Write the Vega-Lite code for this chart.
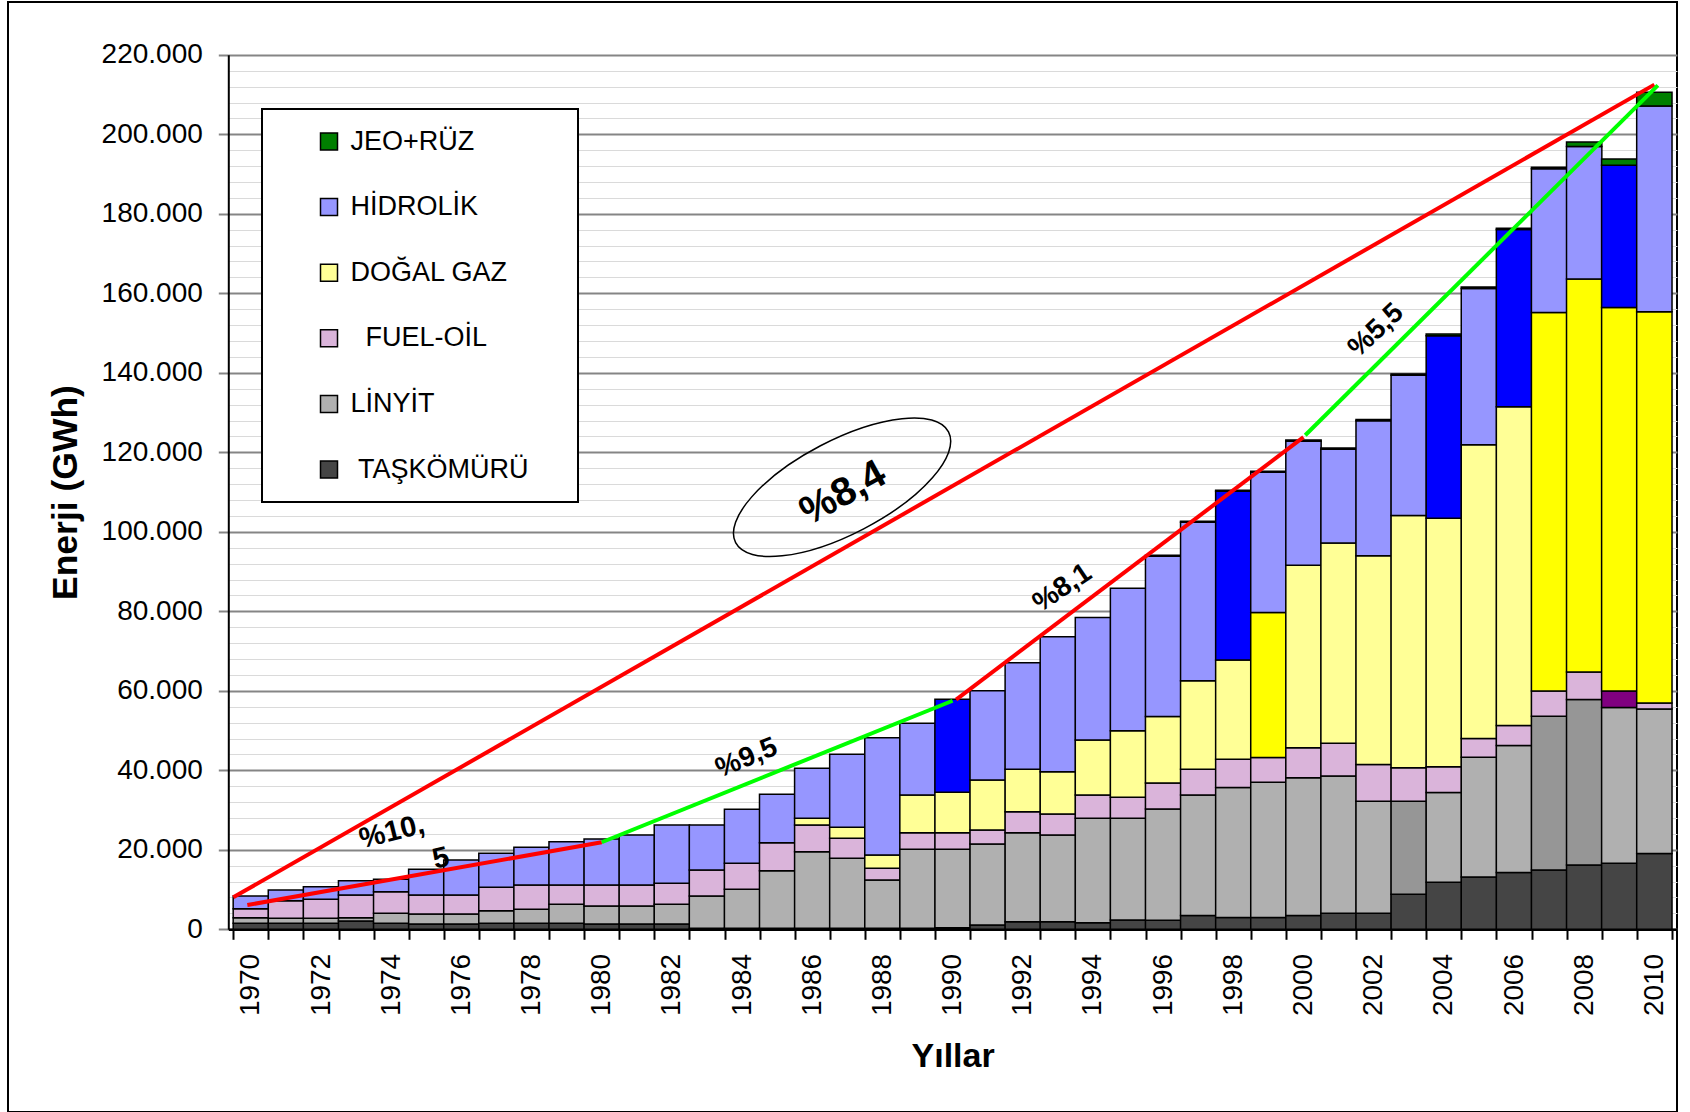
{
  "$schema": "https://vega.github.io/schema/vega-lite/v6.json",
  "width": 1669,
  "height": 1110,
  "autosize": {"type": "none"},
  "padding": {"left": 8, "top": 2, "right": 13, "bottom": 0},
  "background": "#ffffff",
  "config": {
    "font": "Liberation Sans",
    "view": {"stroke": "#000000", "strokeWidth": 2},
    "legend": {"strokeWidth": 2}
  },
  "datasets": {
    "kaynaklar": [
      {"kaynak": "TAŞKÖMÜRÜ", "sira": 1},
      {"kaynak": "LİNYİT", "sira": 2},
      {"kaynak": "FUEL-OİL", "sira": 3},
      {"kaynak": "DOĞAL GAZ", "sira": 4},
      {"kaynak": "HİDROLİK", "sira": 5},
      {"kaynak": "JEO+RÜZ", "sira": 6}
    ],
    "uretim": [
      {"yil": 1970, "kaynak": "TAŞKÖMÜRÜ", "gwh": 1500}, {"yil": 1970, "kaynak": "LİNYİT", "gwh": 1430}, {"yil": 1970, "kaynak": "FUEL-OİL", "gwh": 2260}, {"yil": 1970, "kaynak": "HİDROLİK", "gwh": 3190},
      {"yil": 1971, "kaynak": "TAŞKÖMÜRÜ", "gwh": 1500}, {"yil": 1971, "kaynak": "LİNYİT", "gwh": 1260}, {"yil": 1971, "kaynak": "FUEL-OİL", "gwh": 4440}, {"yil": 1971, "kaynak": "HİDROLİK", "gwh": 2690},
      {"yil": 1972, "kaynak": "TAŞKÖMÜRÜ", "gwh": 1500}, {"yil": 1972, "kaynak": "LİNYİT", "gwh": 1260}, {"yil": 1972, "kaynak": "FUEL-OİL", "gwh": 4780}, {"yil": 1972, "kaynak": "HİDROLİK", "gwh": 3190},
      {"yil": 1973, "kaynak": "TAŞKÖMÜRÜ", "gwh": 2100}, {"yil": 1973, "kaynak": "LİNYİT", "gwh": 800}, {"yil": 1973, "kaynak": "FUEL-OİL", "gwh": 5730}, {"yil": 1973, "kaynak": "HİDROLİK", "gwh": 3610},
      {"yil": 1974, "kaynak": "TAŞKÖMÜRÜ", "gwh": 1500}, {"yil": 1974, "kaynak": "LİNYİT", "gwh": 2520}, {"yil": 1974, "kaynak": "FUEL-OİL", "gwh": 5450}, {"yil": 1974, "kaynak": "HİDROLİK", "gwh": 3100},
      {"yil": 1975, "kaynak": "TAŞKÖMÜRÜ", "gwh": 1330}, {"yil": 1975, "kaynak": "LİNYİT", "gwh": 2520}, {"yil": 1975, "kaynak": "FUEL-OİL", "gwh": 4780}, {"yil": 1975, "kaynak": "HİDROLİK", "gwh": 6460},
      {"yil": 1976, "kaynak": "TAŞKÖMÜRÜ", "gwh": 1330}, {"yil": 1976, "kaynak": "LİNYİT", "gwh": 2520}, {"yil": 1976, "kaynak": "FUEL-OİL", "gwh": 4780}, {"yil": 1976, "kaynak": "HİDROLİK", "gwh": 8800},
      {"yil": 1977, "kaynak": "TAŞKÖMÜRÜ", "gwh": 1500}, {"yil": 1977, "kaynak": "LİNYİT", "gwh": 3190}, {"yil": 1977, "kaynak": "FUEL-OİL", "gwh": 5870}, {"yil": 1977, "kaynak": "HİDROLİK", "gwh": 8550},
      {"yil": 1978, "kaynak": "TAŞKÖMÜRÜ", "gwh": 1500}, {"yil": 1978, "kaynak": "LİNYİT", "gwh": 3520}, {"yil": 1978, "kaynak": "FUEL-OİL", "gwh": 6120}, {"yil": 1978, "kaynak": "HİDROLİK", "gwh": 9480},
      {"yil": 1979, "kaynak": "TAŞKÖMÜRÜ", "gwh": 1500}, {"yil": 1979, "kaynak": "LİNYİT", "gwh": 4780}, {"yil": 1979, "kaynak": "FUEL-OİL", "gwh": 4860}, {"yil": 1979, "kaynak": "HİDROLİK", "gwh": 10900},
      {"yil": 1980, "kaynak": "TAŞKÖMÜRÜ", "gwh": 1330}, {"yil": 1980, "kaynak": "LİNYİT", "gwh": 4530}, {"yil": 1980, "kaynak": "FUEL-OİL", "gwh": 5280}, {"yil": 1980, "kaynak": "HİDROLİK", "gwh": 11570},
      {"yil": 1981, "kaynak": "TAŞKÖMÜRÜ", "gwh": 1330}, {"yil": 1981, "kaynak": "LİNYİT", "gwh": 4530}, {"yil": 1981, "kaynak": "FUEL-OİL", "gwh": 5280}, {"yil": 1981, "kaynak": "HİDROLİK", "gwh": 12580},
      {"yil": 1982, "kaynak": "TAŞKÖMÜRÜ", "gwh": 1330}, {"yil": 1982, "kaynak": "LİNYİT", "gwh": 4950}, {"yil": 1982, "kaynak": "FUEL-OİL", "gwh": 5280}, {"yil": 1982, "kaynak": "HİDROLİK", "gwh": 14680},
      {"yil": 1983, "kaynak": "TAŞKÖMÜRÜ", "gwh": 250}, {"yil": 1983, "kaynak": "LİNYİT", "gwh": 8130}, {"yil": 1983, "kaynak": "FUEL-OİL", "gwh": 6540}, {"yil": 1983, "kaynak": "HİDROLİK", "gwh": 11320},
      {"yil": 1984, "kaynak": "TAŞKÖMÜRÜ", "gwh": 250}, {"yil": 1984, "kaynak": "LİNYİT", "gwh": 9800}, {"yil": 1984, "kaynak": "FUEL-OİL", "gwh": 6540}, {"yil": 1984, "kaynak": "HİDROLİK", "gwh": 13590},
      {"yil": 1985, "kaynak": "TAŞKÖMÜRÜ", "gwh": 250}, {"yil": 1985, "kaynak": "LİNYİT", "gwh": 14500}, {"yil": 1985, "kaynak": "FUEL-OİL", "gwh": 7040}, {"yil": 1985, "kaynak": "HİDROLİK", "gwh": 12160},
      {"yil": 1986, "kaynak": "TAŞKÖMÜRÜ", "gwh": 250}, {"yil": 1986, "kaynak": "LİNYİT", "gwh": 19280}, {"yil": 1986, "kaynak": "FUEL-OİL", "gwh": 6710}, {"yil": 1986, "kaynak": "DOĞAL GAZ", "gwh": 1680}, {"yil": 1986, "kaynak": "HİDROLİK", "gwh": 12580},
      {"yil": 1987, "kaynak": "TAŞKÖMÜRÜ", "gwh": 250}, {"yil": 1987, "kaynak": "LİNYİT", "gwh": 17600}, {"yil": 1987, "kaynak": "FUEL-OİL", "gwh": 5030}, {"yil": 1987, "kaynak": "DOĞAL GAZ", "gwh": 2770}, {"yil": 1987, "kaynak": "HİDROLİK", "gwh": 18370},
      {"yil": 1988, "kaynak": "TAŞKÖMÜRÜ", "gwh": 250}, {"yil": 1988, "kaynak": "LİNYİT", "gwh": 12150}, {"yil": 1988, "kaynak": "FUEL-OİL", "gwh": 2940}, {"yil": 1988, "kaynak": "DOĞAL GAZ", "gwh": 3350}, {"yil": 1988, "kaynak": "HİDROLİK", "gwh": 29520},
      {"yil": 1989, "kaynak": "TAŞKÖMÜRÜ", "gwh": 250}, {"yil": 1989, "kaynak": "LİNYİT", "gwh": 19870}, {"yil": 1989, "kaynak": "FUEL-OİL", "gwh": 4190}, {"yil": 1989, "kaynak": "DOĞAL GAZ", "gwh": 9480}, {"yil": 1989, "kaynak": "HİDROLİK", "gwh": 18030},
      {"yil": 1990, "kaynak": "TAŞKÖMÜRÜ", "gwh": 400}, {"yil": 1990, "kaynak": "LİNYİT", "gwh": 19720}, {"yil": 1990, "kaynak": "FUEL-OİL", "gwh": 4190}, {"yil": 1990, "kaynak": "DOĞAL GAZ", "gwh": 10150}, {"yil": 1990, "kaynak": "HİDROLİK", "gwh": 23400, "vurgu": true},
      {"yil": 1991, "kaynak": "TAŞKÖMÜRÜ", "gwh": 1080}, {"yil": 1991, "kaynak": "LİNYİT", "gwh": 20380}, {"yil": 1991, "kaynak": "FUEL-OİL", "gwh": 3520}, {"yil": 1991, "kaynak": "DOĞAL GAZ", "gwh": 12580}, {"yil": 1991, "kaynak": "HİDROLİK", "gwh": 22470},
      {"yil": 1992, "kaynak": "TAŞKÖMÜRÜ", "gwh": 1920}, {"yil": 1992, "kaynak": "LİNYİT", "gwh": 22390}, {"yil": 1992, "kaynak": "FUEL-OİL", "gwh": 5280}, {"yil": 1992, "kaynak": "DOĞAL GAZ", "gwh": 10650}, {"yil": 1992, "kaynak": "HİDROLİK", "gwh": 26840},
      {"yil": 1993, "kaynak": "TAŞKÖMÜRÜ", "gwh": 1920}, {"yil": 1993, "kaynak": "LİNYİT", "gwh": 21800}, {"yil": 1993, "kaynak": "FUEL-OİL", "gwh": 5280}, {"yil": 1993, "kaynak": "DOĞAL GAZ", "gwh": 10650}, {"yil": 1993, "kaynak": "HİDROLİK", "gwh": 33960},
      {"yil": 1994, "kaynak": "TAŞKÖMÜRÜ", "gwh": 1670}, {"yil": 1994, "kaynak": "LİNYİT", "gwh": 26250}, {"yil": 1994, "kaynak": "FUEL-OİL", "gwh": 5870}, {"yil": 1994, "kaynak": "DOĞAL GAZ", "gwh": 13840}, {"yil": 1994, "kaynak": "HİDROLİK", "gwh": 30780},
      {"yil": 1995, "kaynak": "TAŞKÖMÜRÜ", "gwh": 2340}, {"yil": 1995, "kaynak": "LİNYİT", "gwh": 25580}, {"yil": 1995, "kaynak": "FUEL-OİL", "gwh": 5280}, {"yil": 1995, "kaynak": "DOĞAL GAZ", "gwh": 16770}, {"yil": 1995, "kaynak": "HİDROLİK", "gwh": 35810},
      {"yil": 1996, "kaynak": "TAŞKÖMÜRÜ", "gwh": 2250}, {"yil": 1996, "kaynak": "LİNYİT", "gwh": 28000}, {"yil": 1996, "kaynak": "FUEL-OİL", "gwh": 6540}, {"yil": 1996, "kaynak": "DOĞAL GAZ", "gwh": 16750}, {"yil": 1996, "kaynak": "HİDROLİK", "gwh": 40300}, {"yil": 1996, "kaynak": "JEO+RÜZ", "gwh": 250},
      {"yil": 1997, "kaynak": "TAŞKÖMÜRÜ", "gwh": 3460}, {"yil": 1997, "kaynak": "LİNYİT", "gwh": 30320}, {"yil": 1997, "kaynak": "FUEL-OİL", "gwh": 6500}, {"yil": 1997, "kaynak": "DOĞAL GAZ", "gwh": 22270}, {"yil": 1997, "kaynak": "HİDROLİK", "gwh": 39850}, {"yil": 1997, "kaynak": "JEO+RÜZ", "gwh": 260},
      {"yil": 1998, "kaynak": "TAŞKÖMÜRÜ", "gwh": 2940}, {"yil": 1998, "kaynak": "LİNYİT", "gwh": 32750}, {"yil": 1998, "kaynak": "FUEL-OİL", "gwh": 7100}, {"yil": 1998, "kaynak": "DOĞAL GAZ", "gwh": 24960}, {"yil": 1998, "kaynak": "HİDROLİK", "gwh": 42450, "vurgu": true}, {"yil": 1998, "kaynak": "JEO+RÜZ", "gwh": 260},
      {"yil": 1999, "kaynak": "TAŞKÖMÜRÜ", "gwh": 2940}, {"yil": 1999, "kaynak": "LİNYİT", "gwh": 34050}, {"yil": 1999, "kaynak": "FUEL-OİL", "gwh": 6240}, {"yil": 1999, "kaynak": "DOĞAL GAZ", "gwh": 36480, "vurgu": true}, {"yil": 1999, "kaynak": "HİDROLİK", "gwh": 35260}, {"yil": 1999, "kaynak": "JEO+RÜZ", "gwh": 260},
      {"yil": 2000, "kaynak": "TAŞKÖMÜRÜ", "gwh": 3460}, {"yil": 2000, "kaynak": "LİNYİT", "gwh": 34650}, {"yil": 2000, "kaynak": "FUEL-OİL", "gwh": 7540}, {"yil": 2000, "kaynak": "DOĞAL GAZ", "gwh": 45920}, {"yil": 2000, "kaynak": "HİDROLİK", "gwh": 31190}, {"yil": 2000, "kaynak": "JEO+RÜZ", "gwh": 330},
      {"yil": 2001, "kaynak": "TAŞKÖMÜRÜ", "gwh": 4060}, {"yil": 2001, "kaynak": "LİNYİT", "gwh": 34480}, {"yil": 2001, "kaynak": "FUEL-OİL", "gwh": 8240}, {"yil": 2001, "kaynak": "DOĞAL GAZ", "gwh": 50420}, {"yil": 2001, "kaynak": "HİDROLİK", "gwh": 23570}, {"yil": 2001, "kaynak": "JEO+RÜZ", "gwh": 300},
      {"yil": 2002, "kaynak": "TAŞKÖMÜRÜ", "gwh": 4060}, {"yil": 2002, "kaynak": "LİNYİT", "gwh": 28160}, {"yil": 2002, "kaynak": "FUEL-OİL", "gwh": 9270}, {"yil": 2002, "kaynak": "DOĞAL GAZ", "gwh": 52500}, {"yil": 2002, "kaynak": "HİDROLİK", "gwh": 33970}, {"yil": 2002, "kaynak": "JEO+RÜZ", "gwh": 300},
      {"yil": 2003, "kaynak": "TAŞKÖMÜRÜ", "gwh": 8830}, {"yil": 2003, "kaynak": "LİNYİT", "gwh": 23390, "vurgu": true}, {"yil": 2003, "kaynak": "FUEL-OİL", "gwh": 8400}, {"yil": 2003, "kaynak": "DOĞAL GAZ", "gwh": 63510}, {"yil": 2003, "kaynak": "HİDROLİK", "gwh": 35250}, {"yil": 2003, "kaynak": "JEO+RÜZ", "gwh": 300},
      {"yil": 2004, "kaynak": "TAŞKÖMÜRÜ", "gwh": 11860}, {"yil": 2004, "kaynak": "LİNYİT", "gwh": 22530}, {"yil": 2004, "kaynak": "FUEL-OİL", "gwh": 6500}, {"yil": 2004, "kaynak": "DOĞAL GAZ", "gwh": 62550}, {"yil": 2004, "kaynak": "HİDROLİK", "gwh": 45870, "vurgu": true}, {"yil": 2004, "kaynak": "JEO+RÜZ", "gwh": 430},
      {"yil": 2005, "kaynak": "TAŞKÖMÜRÜ", "gwh": 13160}, {"yil": 2005, "kaynak": "LİNYİT", "gwh": 30150}, {"yil": 2005, "kaynak": "FUEL-OİL", "gwh": 4680}, {"yil": 2005, "kaynak": "DOĞAL GAZ", "gwh": 73900}, {"yil": 2005, "kaynak": "HİDROLİK", "gwh": 39290}, {"yil": 2005, "kaynak": "JEO+RÜZ", "gwh": 430},
      {"yil": 2006, "kaynak": "TAŞKÖMÜRÜ", "gwh": 14290}, {"yil": 2006, "kaynak": "LİNYİT", "gwh": 31970}, {"yil": 2006, "kaynak": "FUEL-OİL", "gwh": 5030}, {"yil": 2006, "kaynak": "DOĞAL GAZ", "gwh": 80140}, {"yil": 2006, "kaynak": "HİDROLİK", "gwh": 44620, "vurgu": true}, {"yil": 2006, "kaynak": "JEO+RÜZ", "gwh": 300},
      {"yil": 2007, "kaynak": "TAŞKÖMÜRÜ", "gwh": 14900}, {"yil": 2007, "kaynak": "LİNYİT", "gwh": 38720, "vurgu": true}, {"yil": 2007, "kaynak": "FUEL-OİL", "gwh": 6330}, {"yil": 2007, "kaynak": "DOĞAL GAZ", "gwh": 95250, "vurgu": true}, {"yil": 2007, "kaynak": "HİDROLİK", "gwh": 36130}, {"yil": 2007, "kaynak": "JEO+RÜZ", "gwh": 400},
      {"yil": 2008, "kaynak": "TAŞKÖMÜRÜ", "gwh": 16190}, {"yil": 2008, "kaynak": "LİNYİT", "gwh": 41590, "vurgu": true}, {"yil": 2008, "kaynak": "FUEL-OİL", "gwh": 6930}, {"yil": 2008, "kaynak": "DOĞAL GAZ", "gwh": 98890, "vurgu": true}, {"yil": 2008, "kaynak": "HİDROLİK", "gwh": 33360}, {"yil": 2008, "kaynak": "JEO+RÜZ", "gwh": 1100},
      {"yil": 2009, "kaynak": "TAŞKÖMÜRÜ", "gwh": 16620}, {"yil": 2009, "kaynak": "LİNYİT", "gwh": 39170}, {"yil": 2009, "kaynak": "FUEL-OİL", "gwh": 4160, "vurgu": true}, {"yil": 2009, "kaynak": "DOĞAL GAZ", "gwh": 96470, "vurgu": true}, {"yil": 2009, "kaynak": "HİDROLİK", "gwh": 35780, "vurgu": true}, {"yil": 2009, "kaynak": "JEO+RÜZ", "gwh": 1600},
      {"yil": 2010, "kaynak": "TAŞKÖMÜRÜ", "gwh": 19050}, {"yil": 2010, "kaynak": "LİNYİT", "gwh": 36390}, {"yil": 2010, "kaynak": "FUEL-OİL", "gwh": 1480}, {"yil": 2010, "kaynak": "DOĞAL GAZ", "gwh": 98460, "vurgu": true}, {"yil": 2010, "kaynak": "HİDROLİK", "gwh": 51720}, {"yil": 2010, "kaynak": "JEO+RÜZ", "gwh": 3470}
    ],
    "egilim": [
      {"parca": "1970-2010", "yil": 1969.5, "gwh": 8040},
      {"parca": "1970-2010", "yil": 2010, "gwh": 212500},
      {"parca": "1970-1980", "yil": 1969.9, "gwh": 6100},
      {"parca": "1970-1980", "yil": 1980, "gwh": 21900},
      {"parca": "1980-1990", "yil": 1980, "gwh": 21900},
      {"parca": "1980-1990", "yil": 1990, "gwh": 57500},
      {"parca": "1990-2000", "yil": 1990.1, "gwh": 57800},
      {"parca": "1990-2000", "yil": 2000, "gwh": 123800},
      {"parca": "2000-2010", "yil": 2000.05, "gwh": 124300},
      {"parca": "2000-2010", "yil": 2010.1, "gwh": 212300}
    ]
  },
  "encoding": {
    "x": {
      "field": "yil",
      "type": "quantitative",
      "scale": {"domain": [1969.5, 2010.5], "range": [220.3, 1668.9], "nice": false, "zero": false},
      "axis": {
        "orient": "bottom",
        "offset": -182.7,
        "values": [1969.5, 1970, 1970.5, 1971, 1971.5, 1972, 1972.5, 1973, 1973.5, 1974, 1974.5, 1975, 1975.5, 1976, 1976.5, 1977, 1977.5, 1978, 1978.5, 1979, 1979.5, 1980, 1980.5, 1981, 1981.5, 1982, 1982.5, 1983, 1983.5, 1984, 1984.5, 1985, 1985.5, 1986, 1986.5, 1987, 1987.5, 1988, 1988.5, 1989, 1989.5, 1990, 1990.5, 1991, 1991.5, 1992, 1992.5, 1993, 1993.5, 1994, 1994.5, 1995, 1995.5, 1996, 1996.5, 1997, 1997.5, 1998, 1998.5, 1999, 1999.5, 2000, 2000.5, 2001, 2001.5, 2002, 2002.5, 2003, 2003.5, 2004, 2004.5, 2005, 2005.5, 2006, 2006.5, 2007, 2007.5, 2008, 2008.5, 2009, 2009.5, 2010, 2010.5],
        "labelExpr": "datum.value % 2 === 0 ? '' + datum.value : ''",
        "labelAngle": -90,
        "labelFont": "Liberation Sans",
        "labelFontSize": 28,
        "labelColor": "#000000",
        "labelPadding": 14,
        "labelOverlap": false,
        "labelFlush": false,
        "labelBound": false,
        "tickSize": 10,
        "tickWidth": 2,
        "tickColor": "#000000",
        "tickOpacity": {"condition": {"test": "datum.value % 1 !== 0", "value": 1}, "value": 0},
        "domainColor": "#000000",
        "domainWidth": 2.5,
        "grid": false,
        "title": "Yıllar",
        "titleFont": "Liberation Sans",
        "titleFontSize": 34,
        "titleFontWeight": "bold",
        "titleColor": "#000000",
        "titlePadding": 24
      }
    },
    "y": {
      "field": "gwh",
      "type": "quantitative",
      "scale": {"domain": [0, 220000], "range": [927.3, 52.8], "nice": false},
      "axis": {
        "orient": "left",
        "offset": -220.3,
        "values": [0, 4000, 8000, 12000, 16000, 20000, 24000, 28000, 32000, 36000, 40000, 44000, 48000, 52000, 56000, 60000, 64000, 68000, 72000, 76000, 80000, 84000, 88000, 92000, 96000, 100000, 104000, 108000, 112000, 116000, 120000, 124000, 128000, 132000, 136000, 140000, 144000, 148000, 152000, 156000, 160000, 164000, 168000, 172000, 176000, 180000, 184000, 188000, 192000, 196000, 200000, 204000, 208000, 212000, 216000, 220000],
        "labelExpr": "datum.value % 20000 === 0 ? replace(format(datum.value, ','), ',', '.') : ''",
        "labelFont": "Liberation Sans",
        "labelFontSize": 28,
        "labelColor": "#000000",
        "labelPadding": 16,
        "labelOverlap": false,
        "labelFlush": false,
        "tickSize": 10,
        "tickWidth": 2,
        "tickColor": "#858585",
        "tickOpacity": {"condition": {"test": "datum.value % 20000 === 0", "value": 1}, "value": 0},
        "domainColor": "#000000",
        "domainWidth": 2,
        "grid": true,
        "gridColor": {"condition": {"test": "datum.value % 20000 === 0", "value": "#858585"}, "value": "#dadada"},
        "gridWidth": {"condition": {"test": "datum.value % 20000 === 0", "value": 2}, "value": 1},
        "title": "Enerji (GWh)",
        "titleFont": "Liberation Sans",
        "titleFontSize": 35.5,
        "titleFontWeight": "bold",
        "titleColor": "#000000",
        "titlePadding": 18
      }
    }
  },
  "layer": [
    {
      "data": {"name": "uretim"},
      "transform": [
        {"lookup": "kaynak", "from": {"data": {"name": "kaynaklar"}, "key": "kaynak", "fields": ["sira"]}}
      ],
      "mark": {"type": "bar", "orient": "vertical", "size": 35.33, "stroke": "#000000", "strokeWidth": 1.5},
      "encoding": {
        "order": {"field": "sira", "type": "quantitative"},
        "fill": {
          "condition": [
            {"test": "datum.vurgu && datum.kaynak === 'HİDROLİK'", "value": "#0000ff"},
            {"test": "datum.vurgu && datum.kaynak === 'DOĞAL GAZ'", "value": "#ffff00"},
            {"test": "datum.vurgu && datum.kaynak === 'LİNYİT'", "value": "#969696"},
            {"test": "datum.vurgu && datum.kaynak === 'FUEL-OİL'", "value": "#800080"}
          ],
          "field": "kaynak",
          "type": "nominal",
          "scale": {
            "domain": ["JEO+RÜZ", "HİDROLİK", "DOĞAL GAZ", "FUEL-OİL", "LİNYİT", "TAŞKÖMÜRÜ"],
            "range": ["#007f00", "#9696ff", "#ffff96", "#dab4da", "#b0b0b0", "#454545"]
          },
          "legend": {
            "orient": "none",
            "legendX": 254,
            "legendY": 107,
            "direction": "vertical",
            "title": "\u00a0",
            "titleOrient": "left",
            "titleFontSize": 27,
            "titlePadding": 34.5,
            "padding": 19,
            "strokeColor": "#000000",
            "fillColor": "#ffffff",
            "symbolType": "square",
            "symbolSize": 289,
            "symbolStrokeColor": "#000000",
            "symbolStrokeWidth": 1.5,
            "symbolOpacity": 1,
            "labelFont": "Liberation Sans",
            "labelFontSize": 27,
            "labelColor": "#000000",
            "labelOffset": 8,
            "labelLimit": 500,
            "rowPadding": 37.6,
            "labelExpr": "datum.label === 'FUEL-OİL' ? '\u200b\u00a0\u00a0FUEL-OİL' : datum.label === 'TAŞKÖMÜRÜ' ? '\u200b\u00a0TAŞKÖMÜRÜ\u00a0\u00a0\u00a0\u00a0\u200b' : datum.label"
          }
        }
      }
    },
    {
      "data": {"name": "egilim"},
      "mark": {"type": "line", "strokeWidth": 4, "strokeCap": "butt"},
      "encoding": {
        "stroke": {
          "field": "parca",
          "type": "nominal",
          "scale": {
            "domain": ["1970-2010", "1970-1980", "1980-1990", "1990-2000", "2000-2010"],
            "range": ["#ff0000", "#ff0000", "#00ff00", "#ff0000", "#00ff00"]
          },
          "legend": null
        }
      }
    },
    {
      "data": {"values": [{"yil": 1974.02, "gwh": 24550, "metin": "%10,"}]},
      "mark": {"type": "text", "font": "Liberation Sans", "fontWeight": "bold", "fontSize": 29, "angle": -14, "align": "center", "baseline": "middle", "color": "#000000"},
      "encoding": {"text": {"field": "metin"}}
    },
    {
      "data": {"values": [{"yil": 1975.42, "gwh": 17860, "metin": "5"}]},
      "mark": {"type": "text", "font": "Liberation Sans", "fontWeight": "bold", "fontSize": 29, "angle": -14, "align": "center", "baseline": "middle", "color": "#000000"},
      "encoding": {"text": {"field": "metin"}}
    },
    {
      "data": {"values": [{"yil": 1984.13, "gwh": 43020, "metin": "%9,5"}]},
      "mark": {"type": "text", "font": "Liberation Sans", "fontWeight": "bold", "fontSize": 28, "angle": -22, "align": "center", "baseline": "middle", "color": "#000000"},
      "encoding": {"text": {"field": "metin"}}
    },
    {
      "data": {"values": [{"yil": 1993.13, "gwh": 85790, "metin": "%8,1"}]},
      "mark": {"type": "text", "font": "Liberation Sans", "fontWeight": "bold", "fontSize": 28, "angle": -34, "align": "center", "baseline": "middle", "color": "#000000"},
      "encoding": {"text": {"field": "metin"}}
    },
    {
      "data": {"values": [{"yil": 2002.07, "gwh": 150610, "metin": "%5,5"}]},
      "mark": {"type": "text", "font": "Liberation Sans", "fontWeight": "bold", "fontSize": 28, "angle": -43, "align": "center", "baseline": "middle", "color": "#000000"},
      "encoding": {"text": {"field": "metin"}}
    },
    {
      "data": {"values": [{"yil": 1986.88, "gwh": 109690, "metin": "%8,4"}]},
      "mark": {"type": "text", "font": "Liberation Sans", "fontWeight": "bold", "fontSize": 40, "angle": -29, "align": "center", "baseline": "middle", "color": "#000000"},
      "encoding": {"text": {"field": "metin"}}
    },
    {
      "data": {"values": [{"yil": 1986.85, "gwh": 111195}]},
      "mark": {
        "type": "point",
        "shape": "M -1 0 A 1 0.39 0 1 0 1 0 A 1 0.39 0 1 0 -1 0 Z",
        "size": 57600,
        "angle": -27.5,
        "filled": false,
        "stroke": "#000000",
        "strokeWidth": 1.5,
        "opacity": 1
      },
      "encoding": {}
    }
  ]
}
